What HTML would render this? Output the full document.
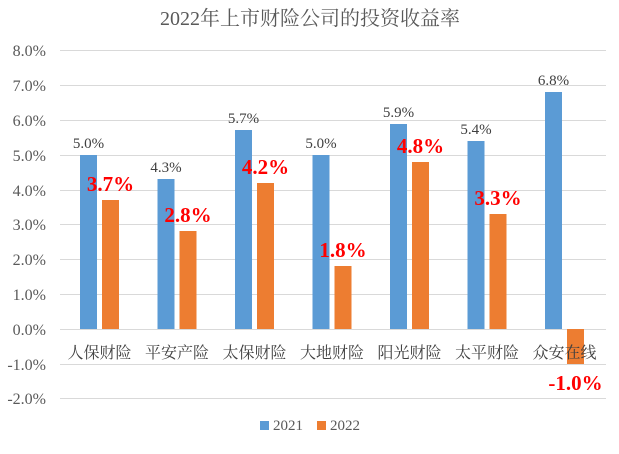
<!DOCTYPE html>
<html><head><meta charset="utf-8"><style>
html,body{margin:0;padding:0;background:#fff;}
svg{display:block;font-family:"Liberation Serif","Noto Serif CJK SC",serif;}
</style></head><body>
<svg width="619" height="454" viewBox="0 0 619 454" xmlns="http://www.w3.org/2000/svg">
<rect width="619" height="454" fill="#fff"/>
<text x="310" y="25" font-size="20" fill="#595959" text-anchor="middle">2022年上市财险公司的投资收益率</text>
<g stroke="#d9d9d9" stroke-width="1">
<line x1="60" x2="606" y1="50.5" y2="50.5"/><line x1="60" x2="606" y1="85.5" y2="85.5"/>
<line x1="60" x2="606" y1="120.5" y2="120.5"/><line x1="60" x2="606" y1="155.5" y2="155.5"/>
<line x1="60" x2="606" y1="190.5" y2="190.5"/><line x1="60" x2="606" y1="224.5" y2="224.5"/>
<line x1="60" x2="606" y1="259.5" y2="259.5"/><line x1="60" x2="606" y1="294.5" y2="294.5"/>
<line x1="60" x2="606" y1="329.5" y2="329.5"/><line x1="60" x2="606" y1="364.5" y2="364.5"/>
<line x1="60" x2="606" y1="398.5" y2="398.5"/>
</g>
<g font-size="16" fill="#595959" text-anchor="end">
<text x="46" y="56">8.0%</text><text x="46" y="91">7.0%</text><text x="46" y="126">6.0%</text>
<text x="46" y="161">5.0%</text><text x="46" y="196">4.0%</text><text x="46" y="230">3.0%</text>
<text x="46" y="265">2.0%</text><text x="46" y="300">1.0%</text><text x="46" y="335">0.0%</text>
<text x="46" y="370">-1.0%</text><text x="46" y="404">-2.0%</text>
</g>
<g fill="#5b9bd5">
<rect x="80" y="155" width="17" height="174"/>
<rect x="157.5" y="179" width="17" height="150"/>
<rect x="235" y="130" width="17" height="199"/>
<rect x="312.5" y="155" width="17" height="174"/>
<rect x="390" y="124" width="17" height="205"/>
<rect x="467.5" y="141" width="17" height="188"/>
<rect x="545" y="92" width="17" height="237"/>
</g>
<g fill="#ed7d31">
<rect x="102" y="200" width="17" height="129"/>
<rect x="179.5" y="231" width="17" height="98"/>
<rect x="257" y="183" width="17" height="146"/>
<rect x="334.5" y="266" width="17" height="63"/>
<rect x="412" y="162" width="17" height="167"/>
<rect x="489.5" y="214" width="17" height="115"/>
<rect x="567" y="329" width="17" height="35"/>
</g>
<g font-size="15" fill="#404040" text-anchor="middle">
<text x="88.5" y="148">5.0%</text><text x="166" y="172">4.3%</text><text x="243.5" y="123">5.7%</text>
<text x="321" y="148">5.0%</text><text x="398.5" y="117">5.9%</text><text x="476" y="134">5.4%</text>
<text x="553.5" y="85">6.8%</text>
</g>
<g font-size="21" font-weight="bold" fill="#ff0000" text-anchor="middle">
<text x="110.5" y="191">3.7%</text><text x="188" y="222">2.8%</text><text x="265.5" y="174">4.2%</text>
<text x="343" y="257">1.8%</text><text x="420.5" y="153">4.8%</text><text x="498" y="205">3.3%</text>
<text x="575.5" y="390">-1.0%</text>
</g>
<g font-size="16" fill="#404040" text-anchor="middle">
<text x="99.5" y="358">人保财险</text><text x="177" y="358">平安产险</text><text x="254.5" y="358">太保财险</text>
<text x="332" y="358">大地财险</text><text x="409.5" y="358">阳光财险</text><text x="487" y="358">太平财险</text>
<text x="564.5" y="358">众安在线</text>
</g>
<rect x="260" y="421" width="9" height="9" fill="#5b9bd5"/>
<text x="273" y="430" font-size="15" fill="#595959">2021</text>
<rect x="317" y="421" width="9" height="9" fill="#ed7d31"/>
<text x="330" y="430" font-size="15" fill="#595959">2022</text>
</svg>
</body></html>
